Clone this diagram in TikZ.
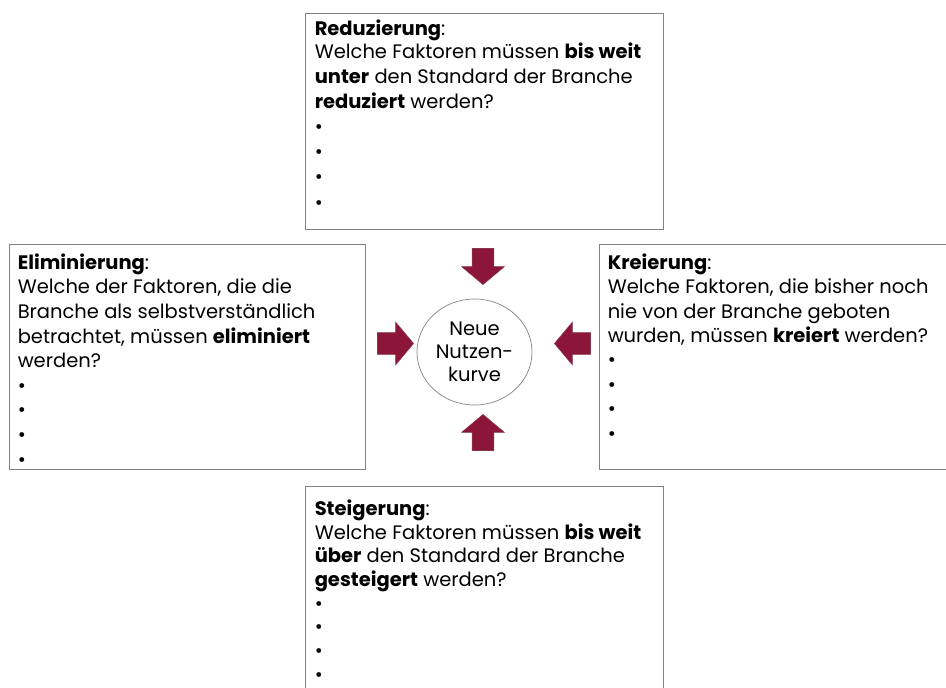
\documentclass[tikz,border=0pt]{standalone}
\usepackage{fontspec}
\setmainfont{Poppins}
\usepackage{tikz}
\usetikzlibrary{
  positioning,
  shapes.geometric,
  shapes.arrows
}

\definecolor{pfeilrot}{RGB}{140,22,56}
\definecolor{rahmengrau}{RGB}{130,130,130}

\tikzset{
  feld/.style={draw=rahmengrau,line width=0.9pt,minimum width=358pt,minimum height=216pt,inner sep=0pt},
  feldtext/.style={anchor=north west,inner sep=0pt,align=left,font=\fontsize{19.5}{#1}\selectfont},
  feldtext/.default=24.6,
  blockpfeil/.style={single arrow,fill=pfeilrot,draw=pfeilrot!70!gray,line width=0.6pt,
    inner xsep=0pt,inner ysep=10.5pt,minimum width=42pt,minimum height=36pt,
    single arrow head extend=10.5pt,single arrow tip angle=100}
}

\begin{document}
\begin{tikzpicture}[x=1pt,y=1pt]
  \useasboundingbox (0,0) rectangle (946,-688);
  \clip (0,0) rectangle (946,-688);
  % Mitte
  \node[ellipse,draw=rahmengrau,line width=0.7pt,minimum width=115pt,minimum height=106pt,
    inner sep=0pt,align=center,font=\fontsize{19.5}{23}\selectfont] (kurve) at (474.5,-352) {Neue\\Nutzen-\\kurve};

  % Felder
  \node[feld] (feldRed) at (484,-121) {};
  \node[feld,minimum width=356pt,minimum height=225pt] (feldElim) at (187,-356.5) {};
  \node[feld,minimum width=360pt,minimum height=225pt] (feldKre) at (779,-356.5) {};
  \node[feld] (feldSteig) at (484,-594) {};

  % Texte
  \node[feldtext=25.1] (txtRed) at ([shift={(10,-7)}]feldRed.north west)
    {\textbf{Reduzierung}:\\[-2pt]
     Welche Faktoren müssen \textbf{bis weit}\\
     \textbf{unter} den Standard der Branche\\
     \textbf{reduziert} werden?\\
     •\\ •\\ •\\ •};
  \node[feldtext] (txtElim) at ([shift={(9,-10)}]feldElim.north west)
    {\textbf{Eliminierung}:\\
     Welche der Faktoren, die die\\
     Branche als selbstverständlich\\
     betrachtet, müssen \textbf{eliminiert}\\
     werden?\\
     •\\ •\\ •\\ •};
  \node[feldtext=24.4] (txtKre) at ([shift={(9,-10)}]feldKre.north west)
    {\textbf{Kreierung}:\\
     Welche Faktoren, die bisher noch\\
     nie von der Branche geboten\\
     wurden, müssen \textbf{kreiert} werden?\\
     •\\ •\\ •\\ •};
  \node[feldtext=23.7] (txtSteig) at ([shift={(10,-14)}]feldSteig.north west)
    {\textbf{Steigerung}:\\
     Welche Faktoren müssen \textbf{bis weit}\\
     \textbf{über} den Standard der Branche\\
     \textbf{gesteigert} werden?\\
     •\\ •\\ •\\ •};

  % Pfeile
  \node[blockpfeil,rotate=-90] (pfeilOben) at (483,-262) {};
  \node[blockpfeil,rotate=90] (pfeilUnten) at (483,-437) {};
  \node[blockpfeil] (pfeilLinks) at (391,-343.5) {};
  \node[blockpfeil,rotate=180] (pfeilRechts) at (577,-343.5) {};
\end{tikzpicture}
\end{document}
